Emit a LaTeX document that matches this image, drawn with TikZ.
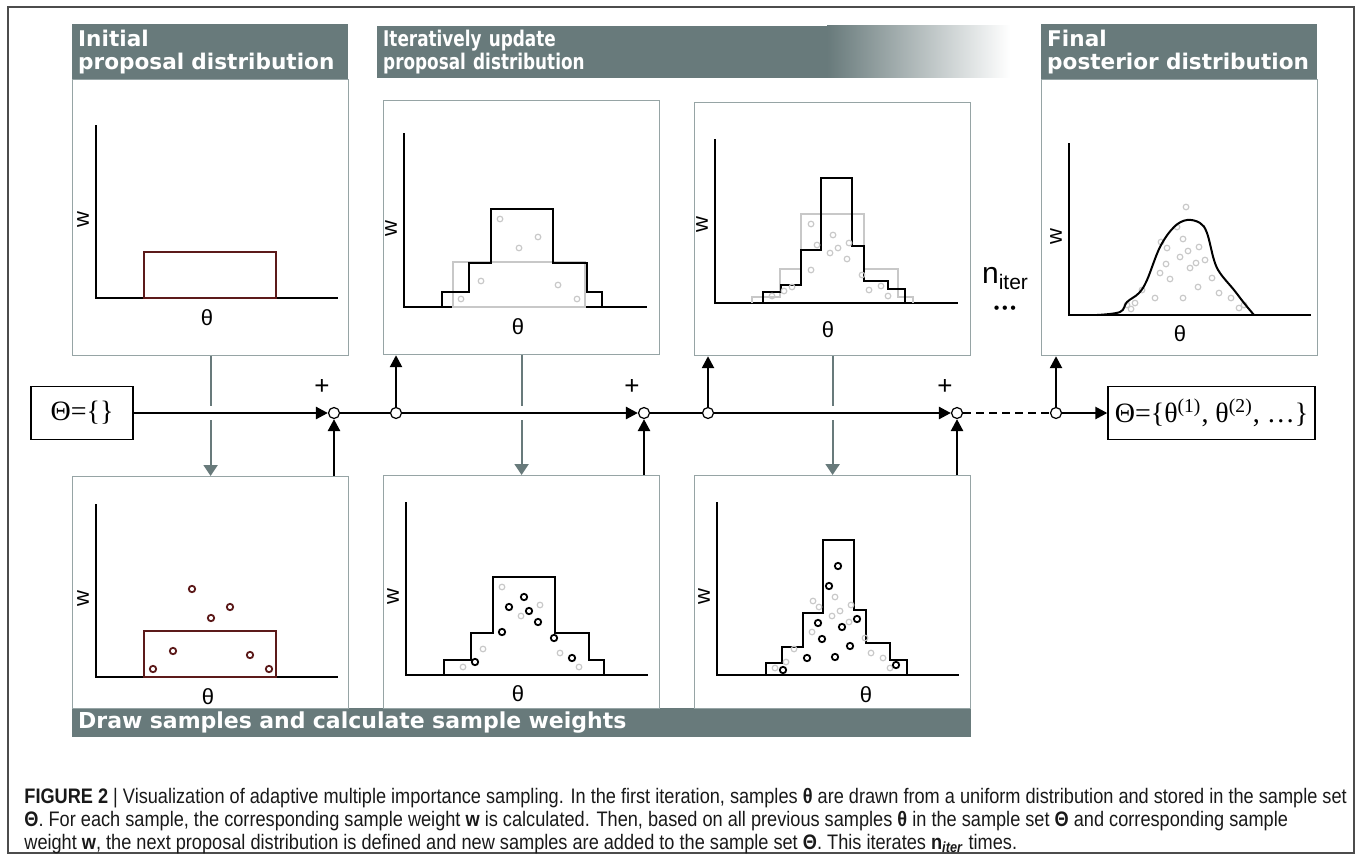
\documentclass[tikz,border=0pt]{standalone}
\usepackage{fontspec}
\setmainfont{Liberation Sans}
\newfontfamily\headfont{DejaVu Sans}
\newfontfamily\headcondfont{DejaVu Sans}[FakeStretch=0.78]
\newfontfamily\setfont{Liberation Serif}
\newfontfamily\capfont{Liberation Sans}[FakeStretch=0.865]
\usetikzlibrary{positioning}
\usetikzlibrary{arrows.meta}
\definecolor{slate}{RGB}{104,122,123}
\definecolor{rim}{RGB}{150,164,165}
\definecolor{faded}{RGB}{200,200,200}
\definecolor{brick}{RGB}{92,26,26}

\begin{document}
\begin{tikzpicture}[
    x=0.5pt, y=-0.5pt,
    >={Triangle[length=6pt,width=6pt]},  % Arrow style
    panel/.style={draw=rim, line width=0.6pt, minimum width=138pt, anchor=north west, inner sep=0pt},
    head/.style={fill=slate, text=white, font=\headfont\bfseries\fontsize{10.8}{11.6}\selectfont,
                 align=left, anchor=north west, inner xsep=2.9pt, inner ysep=0pt},
    axis/.style={line width=1pt},
    lbl/.style={font=\fontsize{11}{12}\selectfont},
    flow/.style={line width=1.25pt},
    gap/.style={preaction={draw=white, line width=7pt, arrows=-}},
    feed/.style={draw=slate, line width=1.1pt, -{Triangle[length=5.5pt,width=7pt]}},
    junc/.style={circle, draw, fill=white, line width=0.6pt, inner sep=0pt, minimum size=5.5pt},
    setbox/.style={draw, line width=0.8pt, font=\setfont\fontsize{14}{16}\selectfont, minimum height=26.5pt},
    plus/.style={font=\fontsize{13}{14}\selectfont},
    stair/.style={line width=1pt},
    oldstair/.style={draw=faded, line width=0.8pt},
    smp/.style={draw, line width=0.9pt},
    oldsmp/.style={draw=faded, line width=0.6pt}
]
    \useasboundingbox (0,0) rectangle (1358,856);
    \draw[black!70, line width=0.75pt] (8,7) rectangle (1354,853);

    % Headers
    \node[head, text width=132.2pt, minimum height=27.5pt] (h1) at (72,24) {Initial\\proposal distribution};
    \fill[slate] (377,26) rectangle (827,78);
    \shade[left color=slate, right color=white] (827,26) rectangle (1010,78);
    \node[head, fill=none, font=\headcondfont\bfseries\fontsize{10.8}{11.6}\selectfont,
          text width=200pt, minimum height=26pt] (h2) at (377,26) {Iteratively update\\proposal distribution};
    \node[head, text width=132.2pt, minimum height=27.5pt] (h4) at (1041,24) {Final\\posterior distribution};
    \node[head, text width=443.7pt, minimum height=14.5pt, font=\headfont\bfseries\fontsize{11}{12}\selectfont]
        (hb) at (72,708) {Draw samples and calculate sample weights};

    % Panels
    \node[panel, minimum height=138pt] (tp1) at (72,79) {};
    \node[panel, minimum height=127pt] (tp2) at (383,100) {};
    \node[panel, minimum height=126.5pt] (tp3) at (694,102) {};
    \node[panel, minimum height=138pt] (tp4) at (1041,79) {};
    \node[panel, minimum height=116pt] (bp1) at (72,476) {};
    \node[panel, minimum height=116.5pt] (bp2) at (383,475) {};
    \node[panel, minimum height=116.5pt] (bp3) at (694,475) {};

    % Axes
    \foreach \ox/\oy/\ty/\rx/\tx/\thy [count=\k] in {96/298/125/338/207/318, 404/307/133/647/518/327,
        715/303/139/958/828/330, 1069/315/143/1311/1180/334, 96/677/504/338/208/697,
        406/675/502/648/518/694, 717/675/502/959/866/695} {
        \draw[axis] (\ox,\ty) -- (\ox,\oy) -- (\rx,\oy);
        \node[lbl] (th\k) at (\tx,\thy) {θ};
        \node[lbl, rotate=90] (w\k) at (\ox-13,\oy-78) {w};
    }

    % Initial proposal
    \begin{scope}[shift={(96,298)}, y=0.5pt]
        \draw[brick, line width=0.8pt] (48,0) rectangle (180,46);
    \end{scope}
    \begin{scope}[shift={(96,677)}, y=0.5pt]
        \draw[brick, line width=0.8pt] (48,0) rectangle (180,46);
        \foreach \sx/\sy in {96/88,134/70,115/59,77/26,154/22,57/8,173/8}
            \draw[smp, brick] (\sx,\sy) circle[radius=1.6pt];
    \end{scope}

    % Second proposal
    \begin{scope}[shift={(404,307)}, y=0.5pt]
        \draw[oldstair] (49,0) rectangle (181,45);
        \draw[stair] (38,0) -- (38,15) -- (65,15) -- (65,44) -- (87,44) -- (87,98) -- (149,98)
            -- (149,44) -- (183,44) -- (183,15) -- (198,15) -- (198,0);
        \foreach \sx/\sy in {96/88,134/70,115/59,77/26,154/22,57/8,173/8}
            \draw[oldsmp] (\sx,\sy) circle[radius=1.4pt];
    \end{scope}
    \begin{scope}[shift={(406,675)}, y=0.5pt]
        \draw[stair] (38,0) -- (38,15) -- (65,15) -- (65,42) -- (87,42) -- (87,98) -- (149,98)
            -- (149,42) -- (183,42) -- (183,15) -- (198,15) -- (198,0);
        \foreach \sx/\sy in {96/88,134/70,115/59,77/26,154/22,57/8,173/8}
            \draw[oldsmp] (\sx,\sy) circle[radius=1.4pt];
        \foreach \sx/\sy in {118/78,103/68,123/64,132/53,96/43,148/37,69/13,166/17}
            \draw[smp] (\sx,\sy) circle[radius=1.6pt];
    \end{scope}

    % Third proposal
    \begin{scope}[shift={(715,303)}, y=0.5pt]
        \draw[oldstair] (37,0) -- (37,6) -- (65,6) -- (65,34) -- (86,34) -- (86,89) -- (149,89)
            -- (149,34) -- (183,34) -- (183,6) -- (198,6) -- (198,0);
        \draw[stair] (48,0) -- (48,11) -- (66,11) -- (66,18) -- (86,18) -- (86,53) -- (106,53)
            -- (106,125) -- (137,125) -- (137,57) -- (149,57) -- (149,22) -- (173,22)
            -- (173,14) -- (190,14) -- (190,0);
        \foreach \sx/\sy in {96/79,118/68,102/58,123/55,115/50,134/60,132/44,96/33,147/28,
                             77/16,69/12,154/13,166/17,57/7,173/7}
            \draw[oldsmp] (\sx,\sy) circle[radius=1.4pt];
    \end{scope}
    \begin{scope}[shift={(717,675)}, y=0.5pt]
        \draw[stair] (49,0) -- (49,12) -- (65,12) -- (65,28) -- (86,28) -- (86,62) -- (106,62)
            -- (106,135) -- (137,135) -- (137,65) -- (149,65) -- (149,32) -- (173,32)
            -- (173,15) -- (190,15) -- (190,0);
        \foreach \sx/\sy in {96/74,118/78,102/68,134/70,123/64,115/59,132/53,95/43,148/37,
                             77/26,69/13,154/22,166/17,58/7,173/7}
            \draw[oldsmp] (\sx,\sy) circle[radius=1.4pt];
        \foreach \sx/\sy in {121/109,112/89,140/56,101/52,125/48,105/36,133/29,90/17,118/18,66/5,179/10}
            \draw[smp] (\sx,\sy) circle[radius=1.6pt];
    \end{scope}

    % Posterior
    \begin{scope}[shift={(1069,315)}, y=0.5pt]
        \foreach \sx/\sy in {117/108,108/88,114/76,92/73,98/67,130/68,119/64,111/58,136/55,127/52,
                             121/47,97/51,91/42,101/36,143/37,129/28,73/25,150/22,162/17,86/17,
                             114/17,66/12,62/6,58/10,170/7,175/10}
            \draw[oldsmp] (\sx,\sy) circle[radius=1.4pt];
        \draw[line width=1pt] plot[smooth, tension=0.6] coordinates {(28,0) (51,3) (58,13) (70,22)
            (78,35) (91,68) (105,88) (118,95) (131,92) (138,82) (145,55) (151,42) (165,25)
            (175,12) (185,0)};
    \end{scope}

    % Sampling arrows
    \draw[feed] (tp1) -- (bp1);
    \draw[feed] (tp2) -- (bp2);
    \draw[feed] (tp3) -- (bp3);

    % Sample set
    \node[setbox, minimum width=51pt] (empty) at (82,413) {Θ=\{\}};
    \node[setbox, minimum width=101.5pt] (full) at (1211.5,413)
        {Θ=\{θ\textsuperscript{(1)}, θ\textsuperscript{(2)}, …\}};
    \node[junc] (c1) at (334,413) {};
    \node[junc] (c2) at (396,413) {};
    \node[junc] (c3) at (644,413) {};
    \node[junc] (c4) at (708,413) {};
    \node[junc] (c5) at (957,413) {};
    \node[junc] (c6) at (1056,413) {};
    \node[plus] (pl1) at ([shift={(-12,-26)}]c1.center) {+};
    \node[plus] (pl3) at ([shift={(-12,-26)}]c3.center) {+};
    \node[plus] (pl5) at ([shift={(-12,-26)}]c5.center) {+};

    \draw[flow, ->, gap] (empty) -- (c1);
    \draw[flow] (c1) -- (c2);
    \draw[flow, ->, gap] (c2) -- (c3);
    \draw[flow] (c3) -- (c4);
    \draw[flow, ->, gap] (c4) -- (c5);
    \draw[flow, dash pattern=on 4pt off 2.5pt] (c5) -- (c6);
    \draw[flow, ->] (c6) -- (full);
    \draw[flow, ->] (c2) -- (c2 |- tp2.south);
    \draw[flow, ->] (c4) -- (c4 |- tp3.south);
    \draw[flow, ->] (c6) -- (c6 |- tp4.south);
    \draw[flow, ->] (c1 |- bp1.north) -- (c1);
    \draw[flow, ->] (c3 |- bp2.north) -- (c3);
    \draw[flow, ->] (c5 |- bp3.north) -- (c5);

    % Iterations
    \node (niter) at (1005,279) {\fontsize{15}{16}\selectfont n\fontsize{10.5}{12}\selectfont\raisebox{-3pt}{iter}};
    \node[below=1pt of niter, font=\fontsize{8}{9}\selectfont] (dots) {•\,•\,•};

    % Caption
    \node[anchor=north west, align=left, inner sep=0pt, text=black!90,
          font=\capfont\fontsize{10.5}{11.5}\selectfont] (caption) at (24,788)
        {\textbf{FIGURE 2} | Visualization of adaptive multiple importance sampling. In the first iteration, samples \textbf{θ} are drawn from a uniform distribution and stored in the sample set\\
         \textbf{Θ}. For each sample, the corresponding sample weight \textbf{w} is calculated. Then, based on all previous samples \textbf{θ} in the sample set \textbf{Θ} and corresponding sample\\
         weight \textbf{w}, the next proposal distribution is defined and new samples are added to the sample set \textbf{Θ}. This iterates \textbf{n\textsubscript{\textit{iter}}} times.};
\end{tikzpicture}
\end{document}
